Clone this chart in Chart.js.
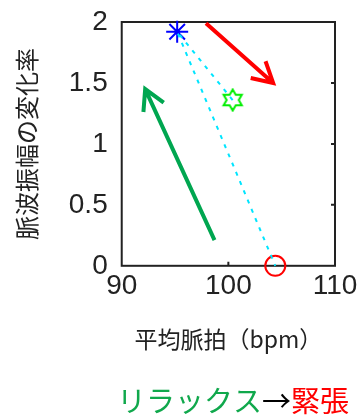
<!DOCTYPE html>
<html>
<head>
<meta charset="utf-8">
<script src="https://cdn.jsdelivr.net/npm/chart.js@4.4.1/dist/chart.umd.min.js"></script>
<style>
  html, body { margin: 0; padding: 0; background: #fff; }
  #wrap { width: 357px; height: 418px; position: relative; }
</style>
</head>
<body>
<div id="wrap"><canvas id="c" width="357" height="418"></canvas></div>
<script>
// Mean pulse rate (bpm) and change ratio of pulse-wave amplitude for three states
const pulseRate = [95.2, 100.4, 104.4];
const amplitudeChange = [1.92, 1.36, 0];
// order in which the dotted cyan path visits the points
const pathOrder = [1, 0, 2];

const xTicks = [90, 100, 110];
const yTicks = [0, 0.5, 1, 1.5, 2];

// trend arrows: [start, end] in data units (bpm, ratio)
const arrowToTension = [[97.9, 1.99], [104.2, 1.50]];
const arrowToRelax = [[98.7, 0.21], [92.2, 1.45]];

const pathPoints = pathOrder.map(i => ({ x: pulseRate[i], y: amplitudeChange[i] }));
const markerPoints = pulseRate.map((x, i) => ({ x, y: amplitudeChange[i] }));

// six-pointed star outline used as a point style
function hexagram(size, color) {
  const c = document.createElement('canvas');
  c.width = size; c.height = size;
  const g = c.getContext('2d');
  const cx = size / 2, cy = size / 2, R = size / 2 - 1.5, r = R / Math.sqrt(3);
  g.beginPath();
  for (let k = 0; k < 12; k++) {
    const a = -Math.PI / 2 + k * Math.PI / 6;
    const rad = k % 2 === 0 ? R : r;
    const px = cx + rad * Math.cos(a), py = cy + rad * Math.sin(a);
    k === 0 ? g.moveTo(px, py) : g.lineTo(px, py);
  }
  g.closePath();
  g.strokeStyle = color; g.lineWidth = 2; g.stroke();
  return c;
}

const frameColor = '#222';

const framePlugin = {
  id: 'frame',
  beforeDatasetsDraw(chart) {
    const { ctx, chartArea: a, scales } = chart;
    ctx.save();
    ctx.strokeStyle = frameColor;
    ctx.lineWidth = 2;
    ctx.strokeRect(a.left, a.top, a.right - a.left, a.bottom - a.top);
    ctx.beginPath();
    [0.5, 1, 1.5].forEach(v => {
      const y = scales.y.getPixelForValue(v);
      ctx.moveTo(a.right, y); ctx.lineTo(a.right - 4, y);
    });
    const x100 = scales.x.getPixelForValue(100);
    ctx.moveTo(x100, a.bottom); ctx.lineTo(x100, a.bottom - 4);
    ctx.stroke();
    ctx.restore();
  }
};

function drawArrow(ctx, sx, sy, ex, ey, color) {
  const ang = Math.atan2(ey - sy, ex - sx);
  const head = 23, spread = Math.PI / 6.2;
  ctx.save();
  ctx.strokeStyle = color;
  ctx.lineWidth = 4;
  ctx.lineCap = 'butt';
  ctx.beginPath();
  ctx.moveTo(sx, sy); ctx.lineTo(ex, ey);
  ctx.moveTo(ex - head * Math.cos(ang - spread), ey - head * Math.sin(ang - spread));
  ctx.lineTo(ex, ey);
  ctx.lineTo(ex - head * Math.cos(ang + spread), ey - head * Math.sin(ang + spread));
  ctx.stroke();
  ctx.restore();
}

const arrowPlugin = {
  id: 'arrows',
  afterDatasetsDraw(chart) {
    const { ctx, scales: { x, y } } = chart;
    [[arrowToTension, '#ff0000'], [arrowToRelax, '#00a650']].forEach(([seg, col]) => {
      drawArrow(ctx,
        x.getPixelForValue(seg[0][0]), y.getPixelForValue(seg[0][1]),
        x.getPixelForValue(seg[1][0]), y.getPixelForValue(seg[1][1]), col);
    });
  }
};

const captionPlugin = {
  id: 'caption',
  afterDraw(chart) {
    const { ctx } = chart;
    const parts = [['リラックス', '#10a84c'], ['→', '#000'], ['緊張', '#ff0000']];
    ctx.save();
    ctx.font = '29px "Noto Sans CJK JP"';
    ctx.textBaseline = 'alphabetic';
    let xPos = 117;
    parts.forEach(([t, col]) => {
      ctx.fillStyle = col;
      ctx.fillText(t, xPos, 412);
      xPos += ctx.measureText(t).width;
    });
    ctx.restore();
  }
};

const tickFont = { family: '"Liberation Sans", Arial, sans-serif', size: 28 };

// tick labels are allowed to overhang the plot box
const noOverhangPadding = s => {
  s.paddingLeft = 0; s.paddingRight = 0; s.paddingTop = 0; s.paddingBottom = 0;
};

new Chart(document.getElementById('c'), {
  type: 'scatter',
  data: {
    datasets: [
      {
        data: pathPoints,
        showLine: true,
        borderColor: '#00e5ff',
        borderWidth: 2,
        borderDash: [4, 6],
        pointRadius: 0,
        clip: false
      },
      {
        data: markerPoints,
        showLine: false,
        pointStyle: ['star', hexagram(24, '#00ee00'), 'circle'],
        pointRadius: [11, 11, 10],
        borderColor: ['#0000ff', '#00ee00', '#ff0000'],
        backgroundColor: 'rgba(0,0,0,0)',
        borderWidth: [2, 2, 2],
        clip: false
      }
    ]
  },
  options: {
    responsive: false,
    animation: false,
    layout: { padding: { left: 12, right: 22, top: 22, bottom: 65 } },
    plugins: { legend: { display: false }, tooltip: { enabled: false } },
    scales: {
      x: {
        type: 'linear', min: 90, max: 110,
        afterBuildTicks: s => { s.ticks = xTicks.map(v => ({ value: v })); },
        afterFit: noOverhangPadding,
        grid: { display: false, drawTicks: false },
        border: { display: false },
        ticks: { font: tickFont, color: '#222', padding: 4, maxRotation: 0, callback: v => String(v) },
        title: {
          display: true, text: '平均脈拍（bpm）',
          font: { family: '"Noto Sans CJK JP"', size: 23 }, color: '#222',
          padding: { top: 18, bottom: 0 }
        }
      },
      y: {
        type: 'linear', min: 0, max: 2,
        afterBuildTicks: s => { s.ticks = yTicks.map(v => ({ value: v })); },
        afterFit: noOverhangPadding,
        grid: { display: false, drawTicks: false },
        border: { display: false },
        ticks: { font: tickFont, color: '#222', padding: 14, callback: v => String(v) },
        title: {
          display: true, text: '脈波振幅の変化率',
          font: { family: '"Noto Sans CJK JP"', size: 24 }, color: '#222',
          padding: { top: 0, bottom: 14 }
        }
      }
    }
  },
  plugins: [framePlugin, arrowPlugin, captionPlugin]
});
</script>
</body>
</html>
